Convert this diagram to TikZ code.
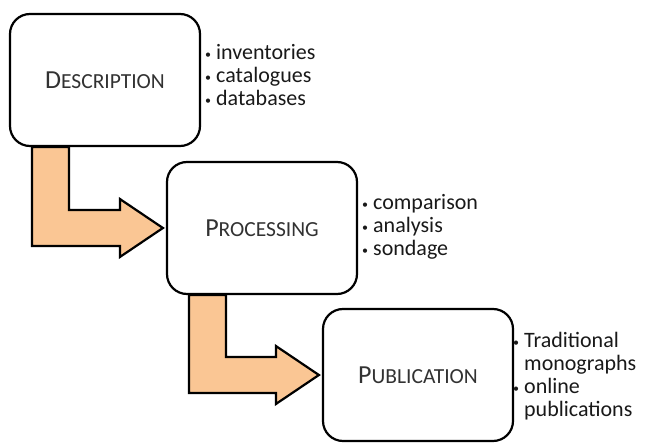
\documentclass[tikz,border=0pt]{standalone}
\usepackage{fontspec}
\setmainfont{Carlito}
\usetikzlibrary{calc}
\definecolor{peach}{RGB}{250,198,148}
\definecolor{inkgray}{RGB}{50,50,50}
\newcommand{\capfirst}[2]{{\fontsize{26}{26}\selectfont #1}{\fontsize{21.5}{26}\selectfont #2}}
\newcommand{\dotitem}{\raisebox{1pt}{\fontsize{12}{12}\selectfont\textbullet}}
% bent arrow from the bottom of one box into the side of the next
\newcommand{\lflow}[2]{%
  \draw[flow] ($(#1.south west)+(23,0)$) -- ($(#1.south west)+(60,0)$)
    |- ($(#2.west)+(-46,18)$) -- ++(0,11) -- ($(#2.west)+(-3,0)$)
    -- ($(#2.west)+(-46,-29)$) -- ++(0,11) -| ($(#1.south west)+(23,0)$) -- cycle;}
\begin{document}
\begin{tikzpicture}[x=1pt,y=1pt,
  stage/.style={draw, line width=2.2pt, rounded corners=20pt, minimum width=190pt,
    minimum height=132pt, fill=white, text=inkgray},
  bullets/.style={anchor=west, inner sep=0pt, align=left, text=black!90,
    font=\fontsize{22}{23}\selectfont},
  flow/.style={fill=peach, line width=2.2pt, line join=miter}]
  \useasboundingbox (0,0) rectangle (645,442);

  \node[stage] (desc) at (105,362) {\capfirst{D}{ESCRIPTION}};
  \node[stage] (proc) at (262,214) {\capfirst{P}{ROCESSING}};
  \node[stage] (publ) at (418,67) {\capfirst{P}{UBLICATION}};

  \lflow{desc}{proc}
  \lflow{proc}{publ}

  \node[bullets] (descitems) at (205,364) {%
    \begin{tabular}{@{}l@{\hspace{5pt}}l@{}}
      \dotitem & inventories\\
      \dotitem & catalogues\\
      \dotitem & databases
    \end{tabular}};
  \node[bullets] (procitems) at (362,214) {%
    \begin{tabular}{@{}l@{\hspace{5pt}}l@{}}
      \dotitem & comparison\\
      \dotitem & analysis\\
      \dotitem & sondage
    \end{tabular}};
  \node[bullets] (publitems) at (513,65) {%
    \begin{tabular}{@{}l@{\hspace{5pt}}l@{}}
      \dotitem & Traditional\\
               & monographs\\
      \dotitem & online\\
               & publications
    \end{tabular}};
\end{tikzpicture}
\end{document}
